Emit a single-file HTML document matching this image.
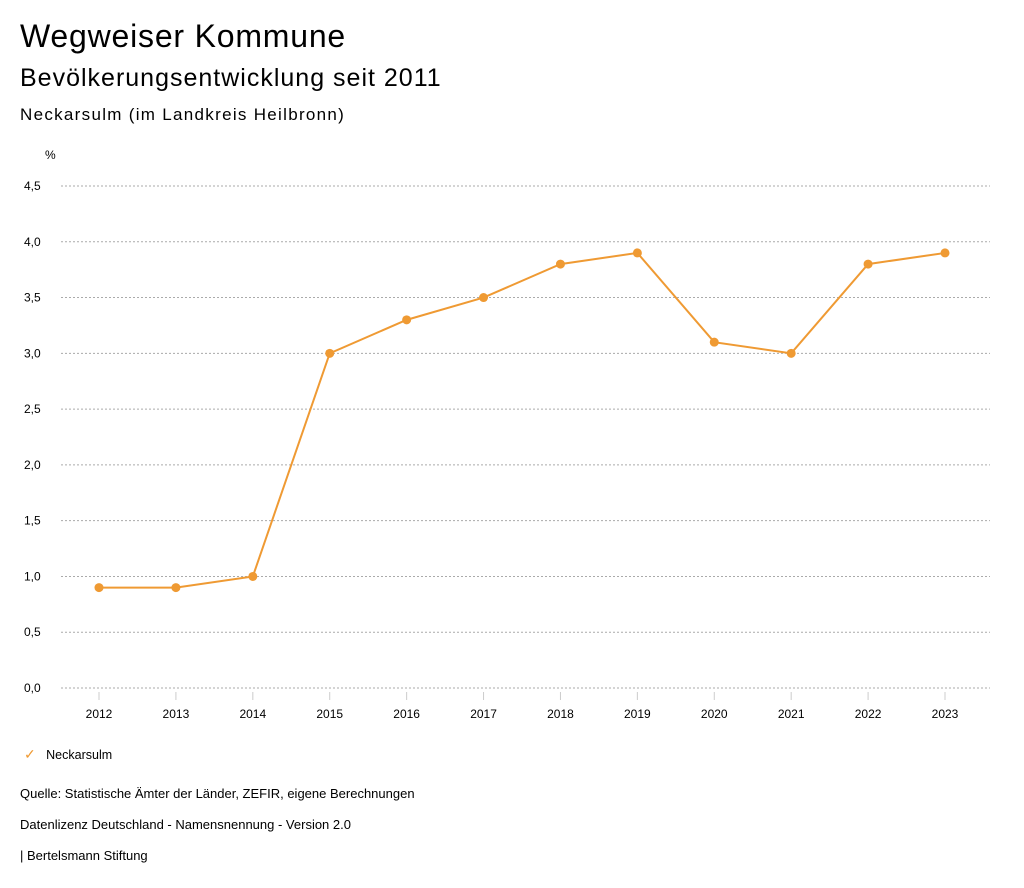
<!DOCTYPE html>
<html><head><meta charset="utf-8"><style>
body{margin:0;width:1024px;height:888px;background:#fff;font-family:"Liberation Sans",sans-serif;color:#000;overflow:hidden}
.t{position:absolute;left:20px;white-space:nowrap}
</style></head><body>
<div class="t" style="top:18px;font-size:32px;letter-spacing:0.8px">Wegweiser Kommune</div>
<div class="t" style="top:64px;font-size:25px;letter-spacing:1px">Bevölkerungsentwicklung seit 2011</div>
<div class="t" style="top:105px;font-size:17px;letter-spacing:1.3px">Neckarsulm (im Landkreis Heilbronn)</div>
<svg id="chart" width="1024" height="888" style="position:absolute;left:0;top:0" font-family="Liberation Sans, sans-serif"></svg>
<div class="t" style="top:746px;font-size:12.5px;left:24px"><span style="color:#ef9a33;font-size:14px">✓</span>&nbsp;&nbsp;&nbsp;Neckarsulm</div>
<div class="t" style="top:786px;font-size:13px">Quelle: Statistische Ämter der Länder, ZEFIR, eigene Berechnungen</div>
<div class="t" style="top:817px;font-size:13px">Datenlizenz Deutschland - Namensnennung - Version 2.0</div>
<div class="t" style="top:848px;font-size:13px">| Bertelsmann Stiftung</div>
<script>
const years=["2012","2013","2014","2015","2016","2017","2018","2019","2020","2021","2022","2023"];
const values=[0.9,0.9,1.0,3.0,3.3,3.5,3.8,3.9,3.1,3.0,3.8,3.9];
const yTicks=[0,0.5,1,1.5,2,2.5,3,3.5,4,4.5];
const svg=document.getElementById('chart');const NS='http://www.w3.org/2000/svg';
const X=i=>99+i*(945-99)/(years.length-1);
const Y=v=>688-v*(688-186)/4.5;
function mk(t,a){const e=document.createElementNS(NS,t);for(const k in a)e.setAttribute(k,a[k]);svg.appendChild(e);return e;}
let u=mk('text',{x:45,y:159,'font-size':12});u.textContent='%';


yTicks.forEach(v=>{
 const l=mk('line',{x1:61,x2:990,y1:Y(v),y2:Y(v),stroke:'#aaa','stroke-dasharray':'2,2','stroke-width':1});
 
 
 const t=mk('text',{x:24,y:Y(v)+4,'font-size':12});
 
 
 t.textContent=v.toFixed(1).replace('.',',');
});
years.forEach((y,i)=>{
 const l=mk('line',{x1:X(i),x2:X(i),y1:692,y2:700,stroke:'#ccc'});
 
 
 const t=mk('text',{x:X(i),y:718,'font-size':12,'text-anchor':'middle'});
 
 
 t.textContent=y;
});
const p=mk('polyline',{points:values.map((v,i)=>X(i)+','+Y(v)).join(' '),fill:'none',stroke:'#ef9a33','stroke-width':2});


values.forEach((v,i)=>{
 const c=mk('circle',{cx:X(i),cy:Y(v),r:4.5,fill:'#ef9a33'});
 
 
});
</script>
</body></html>
